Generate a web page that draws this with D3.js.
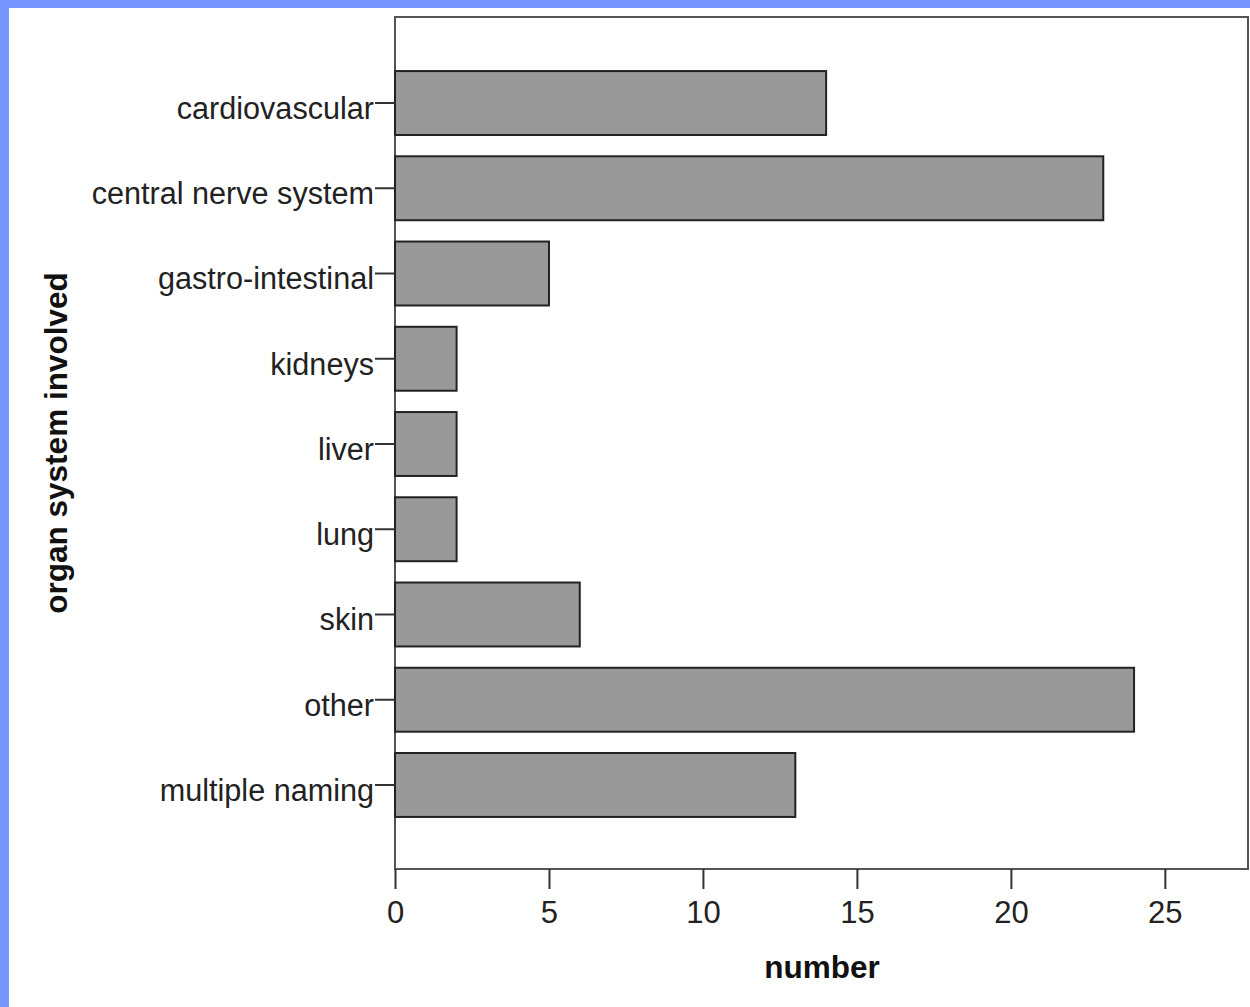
<!DOCTYPE html>
<html><head><meta charset="utf-8">
<script src="https://cdn.jsdelivr.net/npm/d3@7"></script>
<style>html,body{margin:0;padding:0;background:#fff;overflow:hidden}</style>
</head><body>
<svg id="c" width="1250" height="1007"></svg>
<script>
const categories = ["cardiovascular","central nerve system","gastro-intestinal","kidneys","liver","lung","skin","other","multiple naming"];
const values = [14, 23, 5, 2, 2, 2, 6, 24, 13];
const xTicks = [0, 5, 10, 15, 20, 25];
const xTitle = "number";
const yTitle = "organ system involved";

const svg = d3.select("#c");
const font = "'Liberation Sans', Arial, sans-serif";
// blue frame
svg.append("rect").attr("x",0).attr("y",0).attr("width",1250).attr("height",1007).attr("fill","#7896ff");
svg.append("rect").attr("x",9).attr("y",8).attr("width",1241).attr("height",999).attr("fill","#fff");

const L = 395, R = 1248, T = 17, B = 869;
const x = d3.scaleLinear().domain([0, 27.7]).range([L, R]);
const y = d3.scaleBand().domain(categories).range([60.4, 827.6]).paddingInner(0.25).paddingOuter(0.125);

// plot frame
svg.append("rect").attr("x",L).attr("y",T).attr("width",R-L).attr("height",B-T)
  .attr("fill","none").attr("stroke","#555").attr("stroke-width",2);

// bars
svg.selectAll("rect.bar").data(categories).join("rect").attr("class","bar")
  .attr("x", x(0)).attr("y", d => y(d))
  .attr("width", (d,i) => x(values[i]) - x(0)).attr("height", y.bandwidth())
  .attr("fill","#999999").attr("stroke","#222").attr("stroke-width",2);

// x axis
const xa = svg.append("g").attr("transform",`translate(0,${B})`)
  .call(d3.axisBottom(x).tickValues(xTicks).tickSize(20).tickPadding(12).tickFormat(d3.format("d")));
xa.select(".domain").remove();
xa.selectAll("line").attr("stroke","#333").attr("stroke-width",2);
xa.selectAll("text").attr("font-family",font).attr("font-size",31).attr("fill","#222");

// y axis
const ya = svg.append("g").attr("transform",`translate(${L},0)`)
  .call(d3.axisLeft(y).tickSize(20).tickPadding(1));
ya.select(".domain").remove();
ya.selectAll("line").attr("stroke","#333").attr("stroke-width",2);
ya.selectAll("text").attr("font-family",font).attr("font-size",30.6).attr("fill","#222").attr("dy","0.52em");

// titles
svg.append("text").attr("x",822).attr("y",978).attr("text-anchor","middle")
  .attr("font-family",font).attr("font-weight","bold").attr("font-size",31.5).attr("fill","#111").text(xTitle);
svg.append("text").attr("transform","translate(67,443) rotate(-90)").attr("text-anchor","middle")
  .attr("font-family",font).attr("font-weight","bold").attr("font-size",31.5).attr("fill","#111").text(yTitle);
</script>
</body></html>
